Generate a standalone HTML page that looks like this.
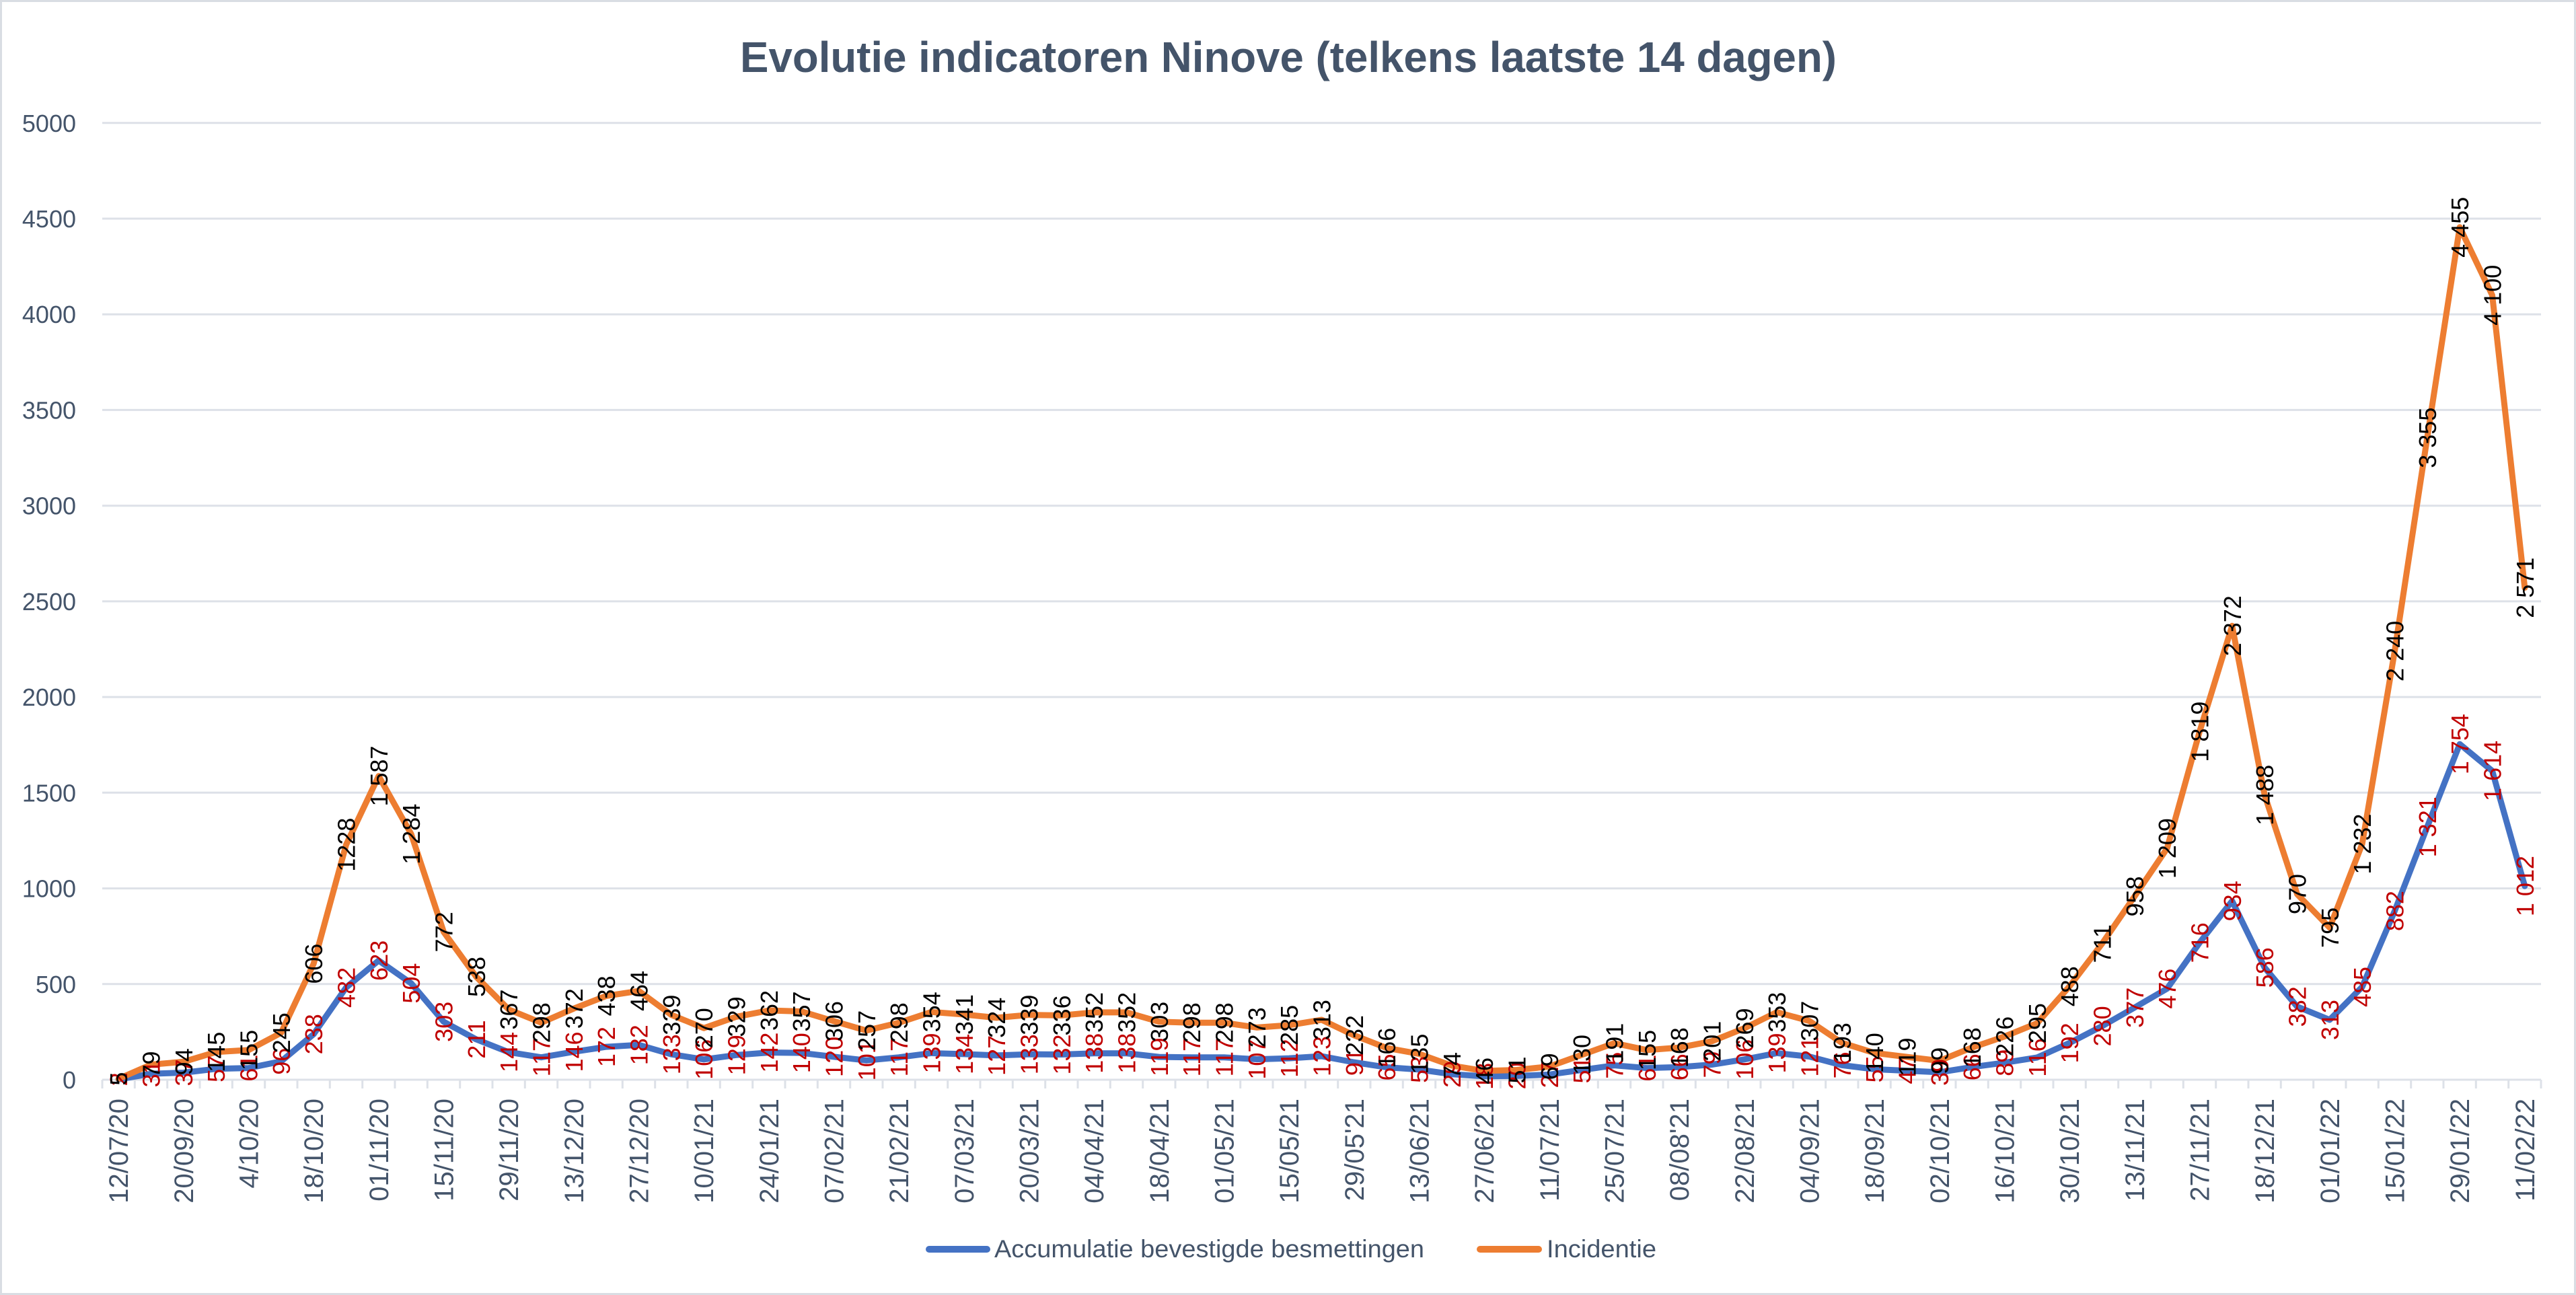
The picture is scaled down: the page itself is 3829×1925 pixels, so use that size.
<!DOCTYPE html>
<html>
<head>
<meta charset="utf-8">
<style>
html,body{margin:0;padding:0;background:#fff;}
svg{display:block;}
</style>
</head>
<body>
<svg xmlns="http://www.w3.org/2000/svg" width="3829" height="1925" viewBox="0 0 3829 1925">
<rect x="0" y="0" width="3829" height="1925" fill="#ffffff"/>
<rect x="1.5" y="1.5" width="3826" height="1922" fill="none" stroke="#d9dde3" stroke-width="3"/>

<!-- Title -->
<text x="1100" y="107" font-family="Liberation Sans, sans-serif" font-weight="bold" font-size="64" fill="#44546a" textLength="1630" lengthAdjust="spacingAndGlyphs">Evolutie indicatoren Ninove (telkens laatste 14 dagen)</text>

<!-- Gridlines -->
<g stroke="#dde1e8" stroke-width="3">
<line x1="152" y1="182.8" x2="3777" y2="182.8"/>
<line x1="152" y1="325.0" x2="3777" y2="325.0"/>
<line x1="152" y1="467.2" x2="3777" y2="467.2"/>
<line x1="152" y1="609.4" x2="3777" y2="609.4"/>
<line x1="152" y1="751.7" x2="3777" y2="751.7"/>
<line x1="152" y1="893.9" x2="3777" y2="893.9"/>
<line x1="152" y1="1036.1" x2="3777" y2="1036.1"/>
<line x1="152" y1="1178.3" x2="3777" y2="1178.3"/>
<line x1="152" y1="1320.6" x2="3777" y2="1320.6"/>
<line x1="152" y1="1462.8" x2="3777" y2="1462.8"/>
<line x1="152" y1="1605" x2="3777" y2="1605"/>
</g>
<!-- Tick marks -->
<g stroke="#dde1e8" stroke-width="3">
<path d="M152 1605v13M200.3 1605v13M248.7 1605v13M297 1605v13M345.3 1605v13M393.7 1605v13M442 1605v13M490.3 1605v13M538.7 1605v13M587 1605v13M635.3 1605v13M683.7 1605v13M732 1605v13M780.3 1605v13M828.7 1605v13M877 1605v13M925.3 1605v13M973.7 1605v13M1022 1605v13M1070.3 1605v13M1118.7 1605v13M1167 1605v13M1215.3 1605v13M1263.7 1605v13M1312 1605v13M1360.3 1605v13M1408.7 1605v13M1457 1605v13M1505.3 1605v13M1553.7 1605v13M1602 1605v13M1650.3 1605v13M1698.7 1605v13M1747 1605v13M1795.3 1605v13M1843.7 1605v13M1892 1605v13M1940.3 1605v13M1988.7 1605v13M2037 1605v13M2085.3 1605v13M2133.7 1605v13M2182 1605v13M2230.3 1605v13M2278.7 1605v13M2327 1605v13M2375.3 1605v13M2423.7 1605v13M2472 1605v13M2520.3 1605v13M2568.7 1605v13M2617 1605v13M2665.3 1605v13M2713.7 1605v13M2762 1605v13M2810.3 1605v13M2858.7 1605v13M2907 1605v13M2955.3 1605v13M3003.7 1605v13M3052 1605v13M3100.3 1605v13M3148.7 1605v13M3197 1605v13M3245.3 1605v13M3293.7 1605v13M3342 1605v13M3390.3 1605v13M3438.7 1605v13M3487 1605v13M3535.3 1605v13M3583.7 1605v13M3632 1605v13M3680.3 1605v13M3728.7 1605v13M3777 1605v13"/>
</g>

<!-- Y axis labels -->
<g font-family="Liberation Sans, sans-serif" font-size="36" fill="#44546a" text-anchor="end">
<text x="113" y="195.8">5000</text>
<text x="113" y="338.0">4500</text>
<text x="113" y="480.2">4000</text>
<text x="113" y="622.4">3500</text>
<text x="113" y="764.7">3000</text>
<text x="113" y="906.9">2500</text>
<text x="113" y="1049.1">2000</text>
<text x="113" y="1191.3">1500</text>
<text x="113" y="1333.6">1000</text>
<text x="113" y="1475.8">500</text>
<text x="113" y="1618">0</text>
</g>

<!-- Series lines -->
<g transform="translate(127.8333,1605) scale(48.33333,-0.284444)" fill="none" stroke-linejoin="round" stroke-linecap="round">
<polyline vector-effect="non-scaling-stroke" stroke="#4472c4" stroke-width="9" points="1,2 2,31 3,37 4,57 5,61 6,96 7,238 8,482 9,623 10,504 11,303 12,211 13,144 14,117 15,146 16,172 17,182 18,133 19,106 20,129 21,142 22,140 23,120 24,101 25,117 26,139 27,134 28,127 29,133 30,132 31,138 32,138 33,119 34,117 35,117 36,107 37,112 38,123 39,91 40,65 41,53 42,29 43,18 44,20 45,27 46,51 47,75 48,61 49,66 50,79 51,106 52,139 53,121 54,76 55,55 56,47 57,39 58,66 59,89 60,116 61,192 62,280 63,377 64,476 65,716 66,934 67,586 68,382 69,313 70,485 71,882 72,1321 73,1754 74,1614 75,1012"/>
<polyline vector-effect="non-scaling-stroke" stroke="#ed7d31" stroke-width="9" points="1,5 2,79 3,94 4,145 5,155 6,245 7,606 8,1228 9,1587 10,1284 11,772 12,538 13,367 14,298 15,372 16,438 17,464 18,339 19,270 20,329 21,362 22,357 23,306 24,257 25,298 26,354 27,341 28,324 29,339 30,336 31,352 32,352 33,303 34,298 35,298 36,273 37,285 38,313 39,232 40,166 41,135 42,74 43,46 44,51 45,69 46,130 47,191 48,155 49,168 50,201 51,269 52,353 53,307 54,193 55,140 56,119 57,99 58,168 59,226 60,295 61,488 62,711 63,958 64,1209 65,1819 66,2372 67,1488 68,970 69,795 70,1232 71,2240 72,3355 73,4455 74,4100 75,2571"/>
</g>

<!-- Data labels (rotated) -->
<g transform="rotate(-90)" font-family="Liberation Sans, sans-serif" font-size="36" text-anchor="middle">
<g fill="#c00000">
<text x="-1604.4" y="189.2">2</text>
<text x="-1596.2" y="237.5">31</text>
<text x="-1594.5" y="285.8">37</text>
<text x="-1588.8" y="334.2">57</text>
<text x="-1587.6" y="382.5">61</text>
<text x="-1577.7" y="430.8">96</text>
<text x="-1537.3" y="479.2">238</text>
<text x="-1467.9" y="527.5">482</text>
<text x="-1427.8" y="575.8">623</text>
<text x="-1461.6" y="624.2">504</text>
<text x="-1518.8" y="672.5">303</text>
<text x="-1545.0" y="720.8">211</text>
<text x="-1564.0" y="769.2">144</text>
<text x="-1571.7" y="817.5">117</text>
<text x="-1563.5" y="865.8">146</text>
<text x="-1556.1" y="914.2">172</text>
<text x="-1553.2" y="962.5">182</text>
<text x="-1567.2" y="1010.8">133</text>
<text x="-1574.8" y="1059.2">106</text>
<text x="-1568.3" y="1107.5">129</text>
<text x="-1564.6" y="1155.8">142</text>
<text x="-1565.2" y="1204.2">140</text>
<text x="-1570.9" y="1252.5">120</text>
<text x="-1576.3" y="1300.8">101</text>
<text x="-1571.7" y="1349.2">117</text>
<text x="-1565.5" y="1397.5">139</text>
<text x="-1566.9" y="1445.8">134</text>
<text x="-1568.9" y="1494.2">127</text>
<text x="-1567.2" y="1542.5">133</text>
<text x="-1567.5" y="1590.8">132</text>
<text x="-1565.7" y="1639.2">138</text>
<text x="-1565.7" y="1687.5">138</text>
<text x="-1571.2" y="1735.8">119</text>
<text x="-1571.7" y="1784.2">117</text>
<text x="-1571.7" y="1832.5">117</text>
<text x="-1574.6" y="1880.8">107</text>
<text x="-1573.1" y="1929.2">112</text>
<text x="-1570.0" y="1977.5">123</text>
<text x="-1579.1" y="2025.8">91</text>
<text x="-1586.5" y="2074.2">65</text>
<text x="-1589.9" y="2122.5">53</text>
<text x="-1596.8" y="2170.8">29</text>
<text x="-1599.9" y="2219.2">18</text>
<text x="-1599.3" y="2267.5">20</text>
<text x="-1597.3" y="2315.8">27</text>
<text x="-1590.5" y="2364.2">51</text>
<text x="-1583.7" y="2412.5">75</text>
<text x="-1587.6" y="2460.8">61</text>
<text x="-1586.2" y="2509.2">66</text>
<text x="-1582.5" y="2557.5">79</text>
<text x="-1574.8" y="2605.8">106</text>
<text x="-1565.5" y="2654.2">139</text>
<text x="-1570.6" y="2702.5">121</text>
<text x="-1583.4" y="2750.8">76</text>
<text x="-1589.4" y="2799.2">55</text>
<text x="-1591.6" y="2847.5">47</text>
<text x="-1593.9" y="2895.8">39</text>
<text x="-1586.2" y="2944.2">66</text>
<text x="-1579.7" y="2992.5">89</text>
<text x="-1572.0" y="3040.8">116</text>
<text x="-1550.4" y="3089.2">192</text>
<text x="-1525.4" y="3137.5">280</text>
<text x="-1497.8" y="3185.8">377</text>
<text x="-1469.6" y="3234.2">476</text>
<text x="-1401.3" y="3282.5">716</text>
<text x="-1339.3" y="3330.8">934</text>
<text x="-1438.3" y="3379.2">586</text>
<text x="-1496.3" y="3427.5">382</text>
<text x="-1516.0" y="3475.8">313</text>
<text x="-1467.0" y="3524.2">485</text>
<text x="-1354.1" y="3572.5">882</text>
<text x="-1229.3" y="3620.8">1 321</text>
<text x="-1106.1" y="3669.2">1 754</text>
<text x="-1145.9" y="3717.5">1 614</text>
<text x="-1317.1" y="3765.8">1 012</text>
</g>
<g fill="#000000">
<text x="-1603.6" y="189.2">5</text>
<text x="-1582.5" y="237.5">79</text>
<text x="-1578.3" y="285.8">94</text>
<text x="-1563.8" y="334.2">145</text>
<text x="-1560.9" y="382.5">155</text>
<text x="-1535.3" y="430.8">245</text>
<text x="-1432.6" y="479.2">606</text>
<text x="-1255.7" y="527.5">1228</text>
<text x="-1153.6" y="575.8">1 587</text>
<text x="-1239.8" y="624.2">1 284</text>
<text x="-1385.4" y="672.5">772</text>
<text x="-1452.0" y="720.8">538</text>
<text x="-1500.6" y="769.2">367</text>
<text x="-1520.2" y="817.5">298</text>
<text x="-1499.2" y="865.8">372</text>
<text x="-1480.4" y="914.2">438</text>
<text x="-1473.0" y="962.5">464</text>
<text x="-1508.6" y="1010.8">339</text>
<text x="-1528.2" y="1059.2">270</text>
<text x="-1511.4" y="1107.5">329</text>
<text x="-1502.0" y="1155.8">362</text>
<text x="-1503.5" y="1204.2">357</text>
<text x="-1518.0" y="1252.5">306</text>
<text x="-1531.9" y="1300.8">257</text>
<text x="-1520.2" y="1349.2">298</text>
<text x="-1504.3" y="1397.5">354</text>
<text x="-1508.0" y="1445.8">341</text>
<text x="-1512.8" y="1494.2">324</text>
<text x="-1508.6" y="1542.5">339</text>
<text x="-1509.4" y="1590.8">336</text>
<text x="-1504.9" y="1639.2">352</text>
<text x="-1504.9" y="1687.5">352</text>
<text x="-1518.8" y="1735.8">303</text>
<text x="-1520.2" y="1784.2">298</text>
<text x="-1520.2" y="1832.5">298</text>
<text x="-1527.3" y="1880.8">273</text>
<text x="-1523.9" y="1929.2">285</text>
<text x="-1516.0" y="1977.5">313</text>
<text x="-1539.0" y="2025.8">232</text>
<text x="-1557.8" y="2074.2">166</text>
<text x="-1566.6" y="2122.5">135</text>
<text x="-1584.0" y="2170.8">74</text>
<text x="-1591.9" y="2219.2">46</text>
<text x="-1590.5" y="2267.5">51</text>
<text x="-1585.4" y="2315.8">69</text>
<text x="-1568.0" y="2364.2">130</text>
<text x="-1550.7" y="2412.5">191</text>
<text x="-1560.9" y="2460.8">155</text>
<text x="-1557.2" y="2509.2">168</text>
<text x="-1547.8" y="2557.5">201</text>
<text x="-1528.5" y="2605.8">269</text>
<text x="-1504.6" y="2654.2">353</text>
<text x="-1517.7" y="2702.5">307</text>
<text x="-1550.1" y="2750.8">193</text>
<text x="-1565.2" y="2799.2">140</text>
<text x="-1571.2" y="2847.5">119</text>
<text x="-1576.8" y="2895.8">99</text>
<text x="-1557.2" y="2944.2">168</text>
<text x="-1540.7" y="2992.5">226</text>
<text x="-1521.1" y="3040.8">295</text>
<text x="-1466.2" y="3089.2">488</text>
<text x="-1402.8" y="3137.5">711</text>
<text x="-1332.5" y="3185.8">958</text>
<text x="-1261.1" y="3234.2">1 209</text>
<text x="-1087.6" y="3282.5">1 819</text>
<text x="-930.3" y="3330.8">2 372</text>
<text x="-1181.8" y="3379.2">1 488</text>
<text x="-1329.1" y="3427.5">970</text>
<text x="-1378.9" y="3475.8">795</text>
<text x="-1254.6" y="3524.2">1 232</text>
<text x="-967.9" y="3572.5">2 240</text>
<text x="-650.7" y="3620.8">3 355</text>
<text x="-337.8" y="3669.2">4 455</text>
<text x="-438.8" y="3717.5">4 100</text>
<text x="-873.7" y="3765.8">2 571</text>
</g>
</g>

<!-- X axis labels -->
<g transform="rotate(-90)" font-family="Liberation Sans, sans-serif" font-size="40" fill="#44546a" text-anchor="end">
<text x="-1633" y="190.2">12/07/20</text>
<text x="-1633" y="286.8">20/09/20</text>
<text x="-1633" y="383.5">4/10/20</text>
<text x="-1633" y="480.2">18/10/20</text>
<text x="-1633" y="576.8">01/11/20</text>
<text x="-1633" y="673.5">15/11/20</text>
<text x="-1633" y="770.2">29/11/20</text>
<text x="-1633" y="866.8">13/12/20</text>
<text x="-1633" y="963.5">27/12/20</text>
<text x="-1633" y="1060.2">10/01/21</text>
<text x="-1633" y="1156.8">24/01/21</text>
<text x="-1633" y="1253.5">07/02/21</text>
<text x="-1633" y="1350.2">21/02/21</text>
<text x="-1633" y="1446.8">07/03/21</text>
<text x="-1633" y="1543.5">20/03/21</text>
<text x="-1633" y="1640.2">04/04/21</text>
<text x="-1633" y="1736.8">18/04/21</text>
<text x="-1633" y="1833.5">01/05/21</text>
<text x="-1633" y="1930.2">15/05/21</text>
<text x="-1633" y="2026.8">29/05'21</text>
<text x="-1633" y="2123.5">13/06/21</text>
<text x="-1633" y="2220.2">27/06/21</text>
<text x="-1633" y="2316.8">11/07/21</text>
<text x="-1633" y="2413.5">25/07/21</text>
<text x="-1633" y="2510.2">08/08'21</text>
<text x="-1633" y="2606.8">22/08/21</text>
<text x="-1633" y="2703.5">04/09/21</text>
<text x="-1633" y="2800.2">18/09/21</text>
<text x="-1633" y="2896.8">02/10/21</text>
<text x="-1633" y="2993.5">16/10/21</text>
<text x="-1633" y="3090.2">30/10/21</text>
<text x="-1633" y="3186.8">13/11/21</text>
<text x="-1633" y="3283.5">27/11/21</text>
<text x="-1633" y="3380.2">18/12/21</text>
<text x="-1633" y="3476.8">01/01/22</text>
<text x="-1633" y="3573.5">15/01/22</text>
<text x="-1633" y="3670.2">29/01/22</text>
<text x="-1633" y="3766.8">11/02/22</text>
</g>

<!-- Legend -->
<line x1="1381" y1="1857" x2="1467" y2="1857" stroke="#4472c4" stroke-width="10" stroke-linecap="round"/>
<text x="1478" y="1869" font-family="Liberation Sans, sans-serif" font-size="37" fill="#44546a" textLength="639" lengthAdjust="spacingAndGlyphs">Accumulatie bevestigde besmettingen</text>
<line x1="2200" y1="1857" x2="2287" y2="1857" stroke="#ed7d31" stroke-width="10" stroke-linecap="round"/>
<text x="2299" y="1869" font-family="Liberation Sans, sans-serif" font-size="37" fill="#44546a" textLength="163" lengthAdjust="spacingAndGlyphs">Incidentie</text>
</svg>
</body>
</html>
